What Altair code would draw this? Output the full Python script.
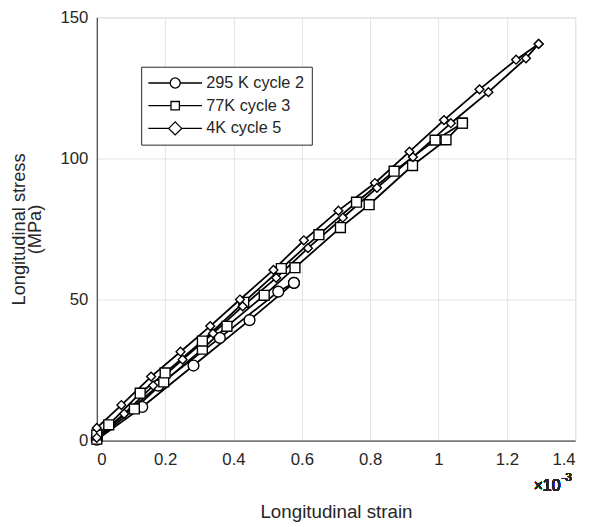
import altair as alt
import pandas as pd

series_labels = ["295 K cycle 2", "77K cycle 3", "4K cycle 5"]

# strain in units of 1e-3, stress in MPa
k295_load_x = [0.0, 0.133, 0.283, 0.447, 0.577]
k295_load_y = [0.3, 11.9, 26.6, 42.7, 55.9]
k295_unload_x = [0.577, 0.531, 0.36, 0.18, 0.0]
k295_unload_y = [55.9, 52.8, 36.4, 19.5, 1.0]

k77_load_x = [0.0, 0.11, 0.196, 0.309, 0.381, 0.49, 0.58, 0.713, 0.797, 0.924, 1.022, 1.07]
k77_load_y = [0.5, 11.2, 20.8, 32.4, 40.5, 51.5, 61.3, 75.5, 83.6, 97.5, 106.6, 112.5]
k77_unload_x = [1.07, 0.99, 0.87, 0.76, 0.65, 0.54, 0.43, 0.309, 0.2, 0.127, 0.035, 0.0]
k77_unload_y = [112.5, 106.5, 95.5, 84.5, 73.0, 61.0, 49.0, 35.3, 24.0, 16.8, 5.6, 2.0]

k4_up_x = [0.0, 0.072, 0.159, 0.245, 0.332, 0.419, 0.517, 0.606, 0.707, 0.814, 0.915, 1.016, 1.12, 1.227, 1.293]
k4_up_y = [4.5, 12.6, 22.7, 31.5, 40.6, 50.0, 60.5, 71.0, 81.5, 91.3, 102.4, 113.6, 124.5, 135.0, 140.6]
k4_low_x = [0.0, 0.08, 0.165, 0.251, 0.34, 0.427, 0.525, 0.618, 0.72, 0.82, 0.925, 1.036, 1.146, 1.256, 1.293]
k4_low_y = [1.0, 9.5, 19.5, 28.7, 38.0, 47.6, 57.7, 68.2, 79.0, 89.6, 100.5, 112.5, 123.5, 135.5, 140.6]

x_ticks = [0, 0.2, 0.4, 0.6, 0.8, 1.0, 1.2, 1.4]
y_ticks = [0, 50, 100, 150]

rows = []
def add(label, branch, xs, ys):
    for i, (x, y) in enumerate(zip(xs, ys)):
        rows.append({"series": label, "branch": label + " " + branch,
                     "strain": x, "stress": y, "order": i})

add(series_labels[0], "load", k295_load_x, k295_load_y)
add(series_labels[0], "unload", k295_unload_x, k295_unload_y)
add(series_labels[1], "load", k77_load_x, k77_load_y)
add(series_labels[1], "unload", k77_unload_x, k77_unload_y)
add(series_labels[2], "up", k4_up_x, k4_up_y)
add(series_labels[2], "low", k4_low_x, k4_low_y)
df = pd.DataFrame(rows)

FONT = "Liberation Sans"
W, H = 485, 429

x_enc = alt.X("strain:Q", scale=alt.Scale(domain=[0, 1.4], nice=False),
              axis=alt.Axis(values=x_ticks, format="~g", title="Longitudinal strain",
                            labelFontSize=17, titleFontSize=19, labelPadding=11,
                            titlePadding=36, tickSize=0, labelFont=FONT, titleFont=FONT,
                            titleFontWeight="normal", labelColor="#262626",
                            titleColor="#262626", domainColor="#262626",
                            gridColor="#e3e3e3"))
y_enc = alt.Y("stress:Q", scale=alt.Scale(domain=[0, 150], nice=False),
              axis=alt.Axis(values=y_ticks, title=["Longitudinal stress", "(MPa)"],
                            labelFontSize=17, titleFontSize=18.5, labelPadding=9,
                            titlePadding=16, tickSize=0, labelFont=FONT, titleFont=FONT,
                            titleFontWeight="normal", labelColor="#262626",
                            titleColor="#262626", domainColor="#262626",
                            gridColor="#e3e3e3", titleLineHeight=16))

lines = alt.Chart(df).mark_line(color="black", strokeWidth=1.8).encode(
    x=x_enc, y=y_enc, detail="branch:N", order="order:Q")

points = alt.Chart(df).mark_point(filled=True, fill="white", stroke="black",
                                  strokeWidth=1.4, opacity=1).encode(
    x=x_enc, y=y_enc,
    shape=alt.Shape("series:N", scale=alt.Scale(domain=series_labels,
                    range=["circle", "square", "diamond"]), legend=None),
    size=alt.Size("series:N", scale=alt.Scale(domain=series_labels,
                  range=[120, 80, 200]), legend=None))

# legend symbols: line segment with marker (unit = 8.5 px)
r_c, r_s, r_d, L = 0.6, 0.5, 0.78, 3.2
leg_paths = [
    f"M-{L},0L-{r_c},0M{r_c},0L{L},0M{r_c},0A{r_c},{r_c},0,1,1,-{r_c},0A{r_c},{r_c},0,1,1,{r_c},0Z",
    f"M-{L},0L-{r_s},0M{r_s},0L{L},0M-{r_s},-{r_s}L{r_s},-{r_s}L{r_s},{r_s}L-{r_s},{r_s}Z",
    f"M-{L},0L-{r_d},0M{r_d},0L{L},0M0,-{r_d}L{r_d},0L0,{r_d}L-{r_d},0Z",
]

legend_layer = alt.Chart(df).transform_filter("datum.stress < -1000").mark_point(
    filled=False, color="black", strokeWidth=1.3).encode(
    x=x_enc, y=y_enc,
    shape=alt.Shape("series:N", scale=alt.Scale(domain=series_labels, range=leg_paths),
                    legend=alt.Legend(title=None, orient="none", legendX=45, legendY=50,
                                      symbolSize=289, symbolOffset=18, labelFontSize=16.5,
                                      labelFont=FONT, labelColor="#262626", labelOffset=22,
                                      padding=7, strokeColor="#262626", fillColor="white",
                                      symbolStrokeColor="black", symbolStrokeWidth=1.3,
                                      symbolOpacity=1, rowPadding=5)))

exp_main = alt.Chart(df).mark_text(align="right", baseline="middle", fontSize=16,
                                   font=FONT, color="#262626").encode(
    x=alt.value(470), y=alt.value(H + 46), text=alt.value("×10"))
exp_sup = alt.Chart(df).mark_text(align="left", baseline="middle", fontSize=12,
                                  font=FONT, color="#262626").encode(
    x=alt.value(471), y=alt.value(H + 37), text=alt.value("-3"))

chart = alt.layer(lines, points, legend_layer, exp_main, exp_sup).resolve_scale(
    shape="independent", size="independent"
).properties(
    width=W, height=H,
    autosize=alt.AutoSizeParams(type="none"),
    padding={"left": 90, "top": 6, "right": 15, "bottom": 80},
).configure_view(stroke="#262626", strokeWidth=1).configure(background="white")

chart.save("out.html", embed_options={"renderer": "svg", "actions": False})
